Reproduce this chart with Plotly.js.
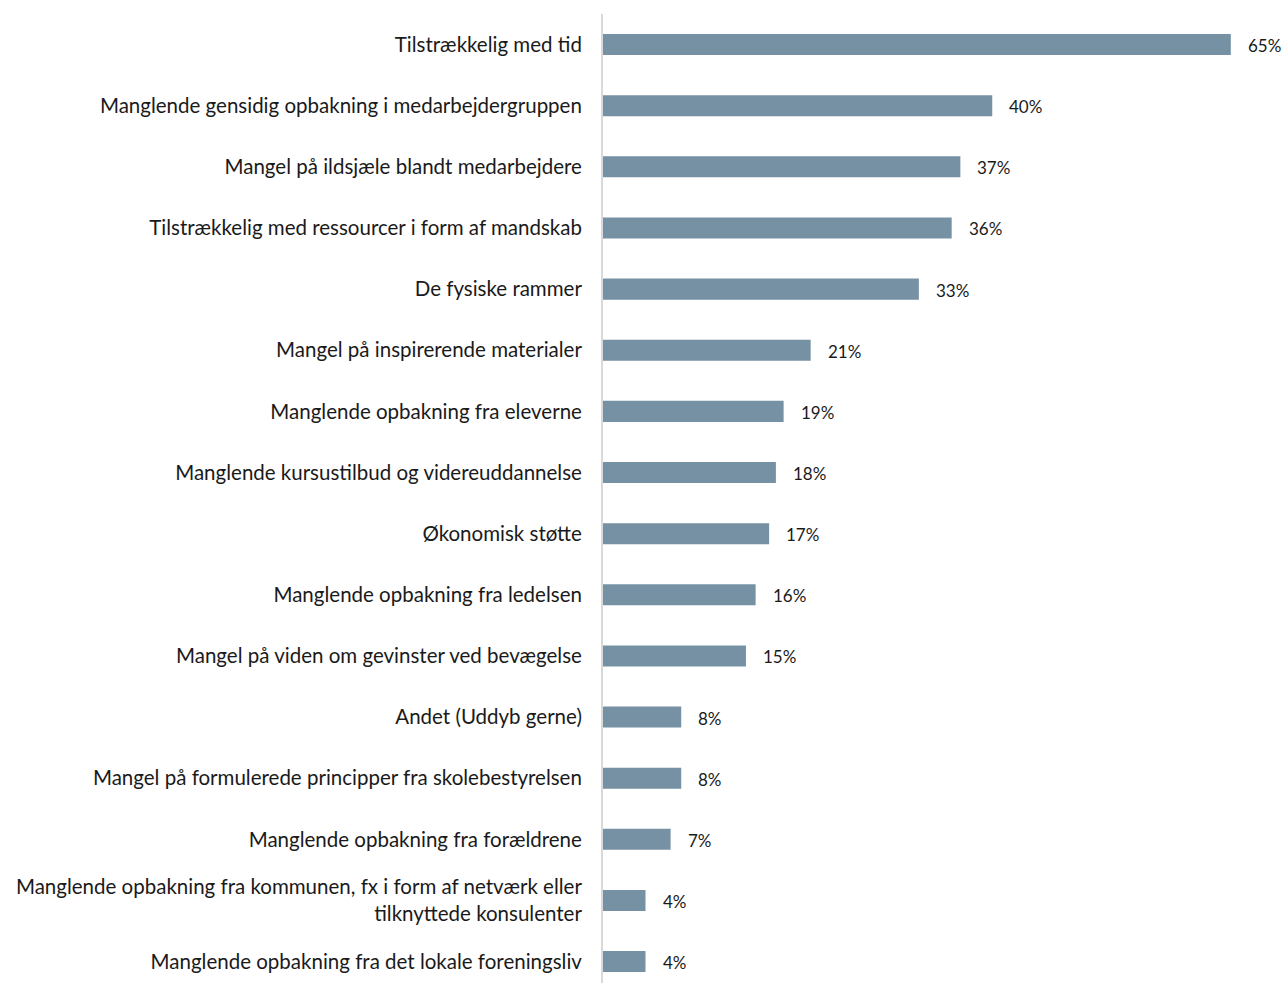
<!DOCTYPE html>
<html>
<head>
<meta charset="utf-8">
<script src="https://cdn.plot.ly/plotly-3.0.1.min.js"></script>
<style>html,body{margin:0;padding:0;background:#fff;overflow:hidden;}#chart{width:1282px;height:983px;}</style>
</head>
<body>
<div id="chart"></div>
<script>
const categories = [
  "Tilstrækkelig med tid",
  "Manglende gensidig opbakning i medarbejdergruppen",
  "Mangel på ildsjæle blandt medarbejdere",
  "Tilstrækkelig med ressourcer i form af mandskab",
  "De fysiske rammer",
  "Mangel på inspirerende materialer",
  "Manglende opbakning fra eleverne",
  "Manglende kursustilbud og videreuddannelse",
  "Økonomisk støtte",
  "Manglende opbakning fra ledelsen",
  "Mangel på viden om gevinster ved bevægelse",
  "Andet (Uddyb gerne)",
  "Mangel på formulerede principper fra skolebestyrelsen",
  "Manglende opbakning fra forældrene",
  "Manglende opbakning fra kommunen, fx i form af netværk eller<br>tilknyttede konsulenter",
  "Manglende opbakning fra det lokale foreningsliv"
];
const values = [65, 40.3, 37, 36.1, 32.7, 21.5, 18.7, 17.9, 17.2, 15.8, 14.8, 8.1, 8.1, 7.0, 4.4, 4.4];
const valueLabels = ["65%", "40%", "37%", "36%", "33%", "21%", "19%", "18%", "17%", "16%", "15%", "8%", "8%", "7%", "4%", "4%"];

const font = "Lato, 'Open Sans', sans-serif";
const trace = {
  type: "bar",
  orientation: "h",
  x: values,
  y: categories,
  marker: {color: "#7691A4"},
  hoverinfo: "skip"
};
const annotations = values.map((v, i) => ({
  x: v, y: categories[i], xref: "x", yref: "y",
  text: valueLabels[i], showarrow: false,
  xanchor: "left", yanchor: "middle", xshift: 15, yshift: -1,
  font: {family: font, size: 17, color: "#1a1a1a"}
}));
const layout = {
  width: 1282, height: 983,
  margin: {l: 603, r: 0, t: 14, b: 0},
  paper_bgcolor: "#fff", plot_bgcolor: "#fff",
  bargap: 0.656,
  showlegend: false,
  font: {family: font, size: 20.5, color: "#1a1a1a"},
  xaxis: {range: [0, 70.3], visible: false, fixedrange: true},
  yaxis: {
    type: "category",
    range: [15.35, -0.5],
    showline: true, linecolor: "#D9D9D9", linewidth: 2,
    showgrid: false, zeroline: false, ticks: "",
    ticklabelstandoff: 15,
    tickfont: {family: font, size: 20.5, color: "#1a1a1a"}
  },
  annotations: annotations
};
Plotly.newPlot("chart", [trace], layout, {displayModeBar: false, staticPlot: true});
</script>
</body>
</html>
